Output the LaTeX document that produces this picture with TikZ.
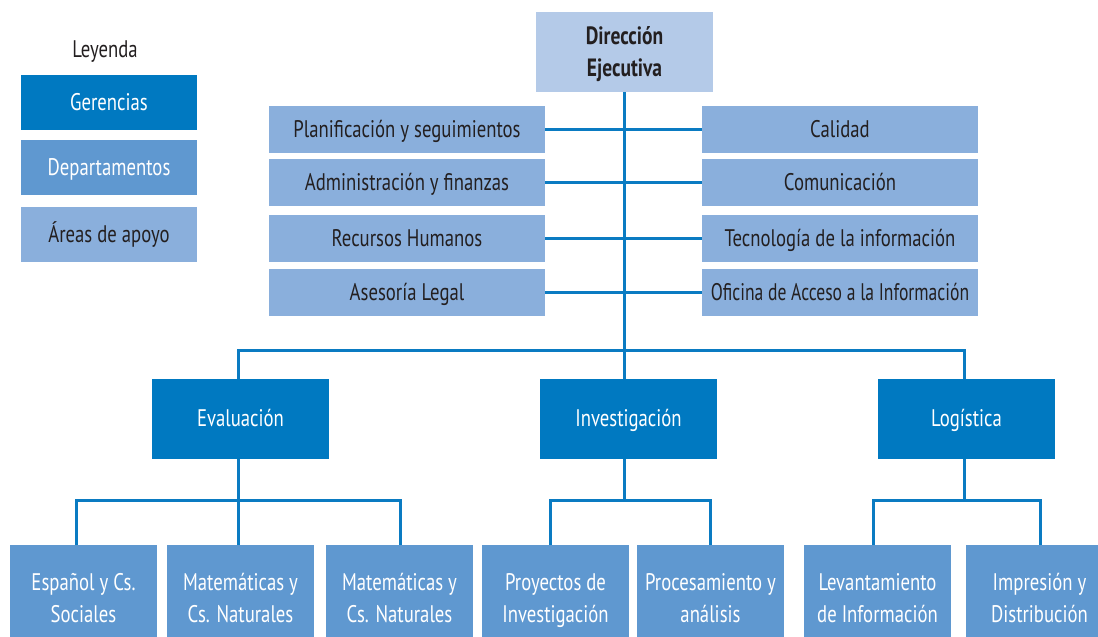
\documentclass[tikz,border=0pt]{standalone}
\usepackage{fontspec}
\usepackage{graphicx}
\setmainfont[FakeStretch=0.78]{PT Sans}
\definecolor{cGer}{HTML}{0079C1}
\definecolor{cDep}{HTML}{5F98D0}
\definecolor{cApo}{HTML}{8AAFDC}
\definecolor{cDir}{HTML}{B4CAE8}
\definecolor{cLine}{HTML}{0A7BC2}
\definecolor{cTxt}{HTML}{231F20}
\newcommand{\lnstrut}{\vrule height 24pt depth 8pt width 0pt}
\begin{document}
\begin{tikzpicture}[x=1pt,y=-1pt,
  base/.style={inner sep=0pt, outer sep=0pt, align=center, font=\fontsize{24}{32}\selectfont},
  ger/.style={base, fill=cGer, text=white, minimum width=177pt, minimum height=80pt},
  dep/.style={base, fill=cDep, text=white, minimum width=147pt, minimum height=106pt},
  apo/.style={base, fill=cApo, text=cTxt, minimum width=276pt, minimum height=47pt},
  leg/.style={base, minimum width=176pt, minimum height=55pt},
  conn/.style={draw=cLine, line width=3pt}]
\useasboundingbox (0,0) rectangle (1098,637);
\clip (0,0) rectangle (1098,637);
% legend
\node[base, text=cTxt] (leyenda) at (105,49) {\lnstrut Leyenda};
\node[leg, fill=cGer, text=white] (legG) at (109,102.5) {\lnstrut Gerencias};
\node[leg, fill=cDep, text=white] (legD) at (109,167.5) {\lnstrut Departamentos};
\node[leg, fill=cApo, text=cTxt] (legA) at (109,234.5) {\lnstrut Áreas de apoyo};
% direction
\node[base, fill=cDir, text=cTxt, minimum width=177pt, minimum height=80pt, font=\fontsize{25}{32}\selectfont\bfseries] (dir) at (624.5,52) {\lnstrut Dirección\\\lnstrut Ejecutiva};
% support areas
\node[apo] (L1) at (407,129.5) {\lnstrut Planificación y seguimientos};
\node[apo] (L2) at (407,182.5) {\lnstrut Administración y finanzas};
\node[apo] (L3) at (407,238.5) {\lnstrut Recursos Humanos};
\node[apo] (L4) at (407,292.5) {\lnstrut Asesoría Legal};
\node[apo] (R1) at (840,129.5) {\lnstrut Calidad};
\node[apo] (R2) at (840,182.5) {\lnstrut Comunicación};
\node[apo] (R3) at (840,238.5) {\lnstrut Tecnología de la información};
\node[apo] (R4) at (840,292.5) {\lnstrut\scalebox{0.94}[1]{Oficina de Acceso a la Información}};
% gerencias
\node[ger] (G1) at (240.5,418.5) {\lnstrut Evaluación};
\node[ger] (G2) at (628.5,418.5) {\lnstrut Investigación};
\node[ger] (G3) at (966.5,418.5) {\lnstrut Logística};
% departments
\node[dep] (E1) at (83.5,598) {\lnstrut Español y Cs.\\\lnstrut Sociales};
\node[dep] (E2) at (240.5,598) {\lnstrut Matemáticas y\\\lnstrut Cs. Naturales};
\node[dep] (E3) at (399.5,598) {\lnstrut Matemáticas y\\\lnstrut Cs. Naturales};
\node[dep] (P1) at (555.5,598) {\lnstrut Proyectos de\\\lnstrut Investigación};
\node[dep] (P2) at (710.5,598) {\lnstrut Procesamiento y\\\lnstrut análisis};
\node[dep] (Lv) at (877.5,598) {\lnstrut Levantamiento\\\lnstrut de Información};
\node[dep] (Im) at (1039.5,598) {\lnstrut Impresión y\\\lnstrut Distribución};
% junctions
\coordinate (trunk) at (624,350);
\coordinate (busL) at (238,350);
\coordinate (busR) at (964,350);
\coordinate (e1) at (76,500);
\coordinate (e2) at (238,500);
\coordinate (e3) at (400,500);
\coordinate (i1) at (550,500);
\coordinate (i2) at (710,500);
\coordinate (g1) at (873,500);
\coordinate (g2) at (1040,500);
% connectors
\draw[conn] (dir.south -| trunk) -- (G2.north -| trunk);
\draw[conn] (G1.north -| busL) -- (busL) -- (busR) -- (G3.north -| busR);
\draw[conn] (L1.east) -- (R1.west);
\draw[conn] (L2.east) -- (R2.west);
\draw[conn] (L3.east) -- (R3.west);
\draw[conn] (L4.east) -- (R4.west);
\draw[conn] (G1.south -| e2) -- (E2.north -| e2);
\draw[conn] (E1.north -| e1) -- (e1) -- (e3) -- (E3.north -| e3);
\draw[conn] (G2.south -| trunk) -- (trunk |- i1);
\draw[conn] (P1.north -| i1) -- (i1) -- (i2) -- (P2.north -| i2);
\draw[conn] (G3.south -| busR) -- (busR |- g1);
\draw[conn] (Lv.north -| g1) -- (g1) -- (g2) -- (Im.north -| g2);
\end{tikzpicture}
\end{document}
